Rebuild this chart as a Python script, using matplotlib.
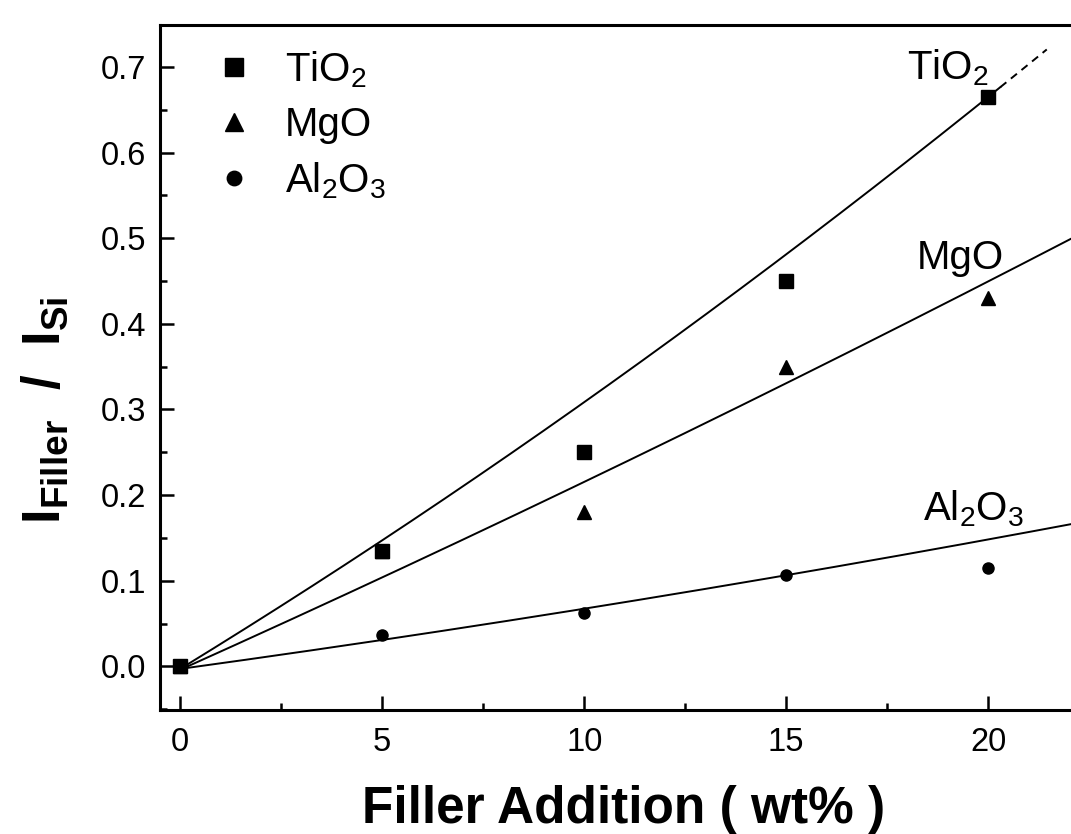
import numpy as np
import matplotlib
matplotlib.use("Agg")
import matplotlib.pyplot as plt
from matplotlib.ticker import MultipleLocator

plt.rcParams['font.family'] = ['Liberation Sans', 'DejaVu Sans']
plt.rcParams['mathtext.fontset'] = 'custom'
plt.rcParams['mathtext.rm'] = 'Liberation Sans'
plt.rcParams['mathtext.it'] = 'Liberation Sans'
plt.rcParams['mathtext.bf'] = 'Liberation Sans:bold'

# ---- data ----
filler_wt = [0, 5, 10, 15, 20]
tio2 = [0.0, 0.135, 0.25, 0.45, 0.665]
mgo = [0.0, 0.135, 0.18, 0.35, 0.43]
al2o3 = [0.0, 0.037, 0.062, 0.107, 0.115]

# fit curves y = c0 + c1*x + c2*x^2
tio2_fit = [-0.003, 0.0289, 0.000225]
mgo_fit = [-0.004, 0.0212, 0.0000738]
al2o3_fit = [-0.003, 0.0065, 0.0000529]

legend_labels = ['TiO$_2$', 'MgO', 'Al$_2$O$_3$']
x_ticks = [0, 5, 10, 15, 20]
y_ticks = [0.0, 0.1, 0.2, 0.3, 0.4, 0.5, 0.6, 0.7]

fig = plt.figure(figsize=(10.71, 8.34), dpi=100)
ax = fig.add_axes([160/1071, 1 - 710/834, 1 - 160/1071, (710 - 25)/834])

def curve(c, x):
    x = np.asarray(x)
    return c[0] + c[1]*x + c[2]*x**2

lw = 1.4
xs = np.linspace(0, 20.3, 200)
ax.plot(xs, curve(tio2_fit, xs), color='black', lw=lw)
xd = np.linspace(20.3, 21.45, 20)
ax.plot(xd, curve(tio2_fit, xd), color='black', lw=lw, ls=(0, (4, 3)))
xl = np.linspace(0, 23, 200)
ax.plot(xl, curve(mgo_fit, xl), color='black', lw=lw)
ax.plot(xl, curve(al2o3_fit, xl), color='black', lw=lw)

h2, = ax.plot(filler_wt, mgo, '^', color='black', ms=10.5, ls='none', zorder=3)
h3, = ax.plot(filler_wt, al2o3, 'o', color='black', ms=8, ls='none', zorder=3)
h1, = ax.plot(filler_wt, tio2, 's', color='black', ms=10, ls='none', zorder=4)

leg = ax.legend([h1, h2, h3], legend_labels, loc='upper left',
                bbox_to_anchor=(0.033, 1.0), frameon=False, fontsize=29,
                markerscale=1.3, handlelength=1.0, handletextpad=0.75,
                labelspacing=0.4, borderaxespad=0.2)

ax.text(20.0, 0.675, 'TiO$_2$', fontsize=29, ha='right', va='bottom')
ax.text(20.4, 0.455, 'MgO', fontsize=29, ha='right', va='bottom')
ax.text(20.9, 0.16, 'Al$_2$O$_3$', fontsize=29, ha='right', va='bottom')

ax.set_xlim(-0.5, 22.05)
ax.set_ylim(-0.051, 0.749)
ax.set_xticks(x_ticks)
ax.set_yticks(y_ticks)
ax.set_yticklabels([f'{v:.1f}' for v in y_ticks])
ax.xaxis.set_minor_locator(MultipleLocator(2.5))
ax.yaxis.set_minor_locator(MultipleLocator(0.05))
ax.tick_params(which='both', direction='in', width=1.8, labelsize=23.5)
ax.tick_params(which='major', length=10)
ax.tick_params(which='minor', length=5)
ax.tick_params(axis='x', pad=12)
ax.tick_params(axis='y', pad=10)
ax.spines['right'].set_visible(False)
for s in ['left', 'bottom', 'top']:
    ax.spines[s].set_linewidth(2.2)

ax.set_xlabel('Filler Addition ( wt% )', fontsize=37, fontweight='bold')
ax.xaxis.set_label_coords((624 - 160)/(1071 - 160), -(810 - 710)/(710 - 25), transform=ax.transAxes)
ax.xaxis.label.set_va('center')
ax.set_ylabel(r'$\mathbf{I}_{\mathbf{Filler}}$  $\mathbf{/}$  $\mathbf{I}_{\mathbf{Si}}$', fontsize=38)
ax.yaxis.set_label_coords(-(160 - 45)/(1071 - 160), (710 - 410)/(710 - 25), transform=ax.transAxes)
ax.yaxis.label.set_va('center')

fig.savefig('out.png', dpi=100)
